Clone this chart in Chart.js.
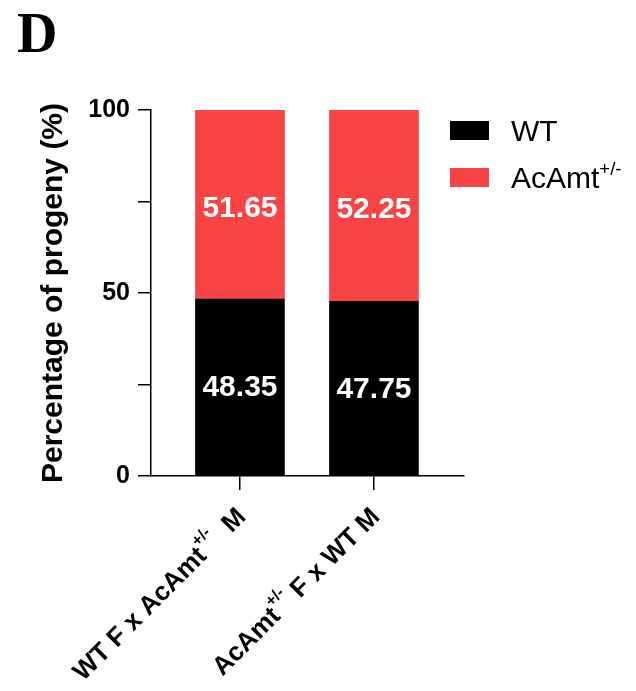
<!DOCTYPE html>
<html>
<head>
<meta charset="utf-8">
<script src="https://cdn.jsdelivr.net/npm/chart.js@4"></script>
<style>
  html, body { margin: 0; padding: 0; background: #fff; }
  #wrap { width: 636px; height: 691px; position: relative; }
</style>
</head>
<body>
<div id="wrap"><canvas id="chart" width="636" height="691"></canvas></div>
<script>
// chart values
const categories = [
    [{ t: 'WT F x AcAmt' }, { t: '+/-', sup: true }, { t: '  M' }],
    [{ t: 'AcAmt' }, { t: '+/-', sup: true }, { t: ' F x WT M' }]
];
const wtValues = [48.35, 47.75];
const mutValues = [51.65, 52.25];
const yTicks = [0, 50, 100];
const seriesNames = [[{ t: 'WT' }], [{ t: 'AcAmt' }, { t: '+/-', sup: true }]];

const RED = '#F94446';
const BOLD = 'bold ';
const FAMILY = "Arial, 'Liberation Sans', sans-serif";

// text with superscript pieces
function richWidth(ctx, parts, size, weight) {
    let w = 0;
    parts.forEach(p => {
        ctx.font = weight + (p.sup ? size * 0.62 : size) + 'px ' + FAMILY;
        w += ctx.measureText(p.t).width;
    });
    return w;
}
function drawRich(ctx, parts, x, y, size, weight) {
    let cx = x;
    parts.forEach(p => {
        const s = p.sup ? size * 0.62 : size;
        ctx.font = weight + s + 'px ' + FAMILY;
        ctx.fillText(p.t, cx, p.sup ? y - size * 0.45 : y);
        cx += ctx.measureText(p.t).width;
    });
}

const extrasPlugin = {
    id: 'extras',
    afterDatasetsDraw(chart) {
        const ctx = chart.ctx;
        ctx.save();
        // values inside the bars
        ctx.fillStyle = '#fff';
        ctx.font = 'bold 30px ' + FAMILY;
        ctx.textAlign = 'center';
        ctx.textBaseline = 'middle';
        chart.data.datasets.forEach((ds, di) => {
            chart.getDatasetMeta(di).data.forEach((bar, i) => {
                const p = bar.getProps(['x', 'y', 'base'], true);
                ctx.fillText(ds.data[i].y.toFixed(2), p.x, (p.y + p.base) / 2 + (di ? 4 : 1));
            });
        });
        ctx.restore();
    },
    afterDraw(chart) {
        const ctx = chart.ctx;
        const xs = chart.scales.x;
        ctx.save();
        ctx.fillStyle = '#000';
        ctx.textAlign = 'left';
        ctx.textBaseline = 'middle';
        // rotated category labels
        categories.forEach((parts, i) => {
            const px = xs.getPixelForValue(i);
            const w = richWidth(ctx, parts, 26, BOLD);
            ctx.save();
            ctx.translate(px + 2, xs.top + 37);
            ctx.rotate(-Math.PI / 4);
            drawRich(ctx, parts, -w, 0, 26, BOLD);
            ctx.restore();
        });
        // legend
        const colors = ['#000', RED];
        seriesNames.forEach((parts, i) => {
            const top = 121 + i * 47;
            ctx.fillStyle = colors[i];
            ctx.fillRect(450, top, 39, 19);
            ctx.fillStyle = '#000';
            ctx.textBaseline = 'alphabetic';
            drawRich(ctx, parts, 511, top + 20, 30, '');
        });
        // panel letter
        ctx.font = 'bold 56px "Liberation Serif", "Times New Roman", serif';
        ctx.textBaseline = 'alphabetic';
        ctx.fillText('D', 17, 52);
        ctx.restore();
    }
};

new Chart(document.getElementById('chart'), {
    type: 'bar',
    data: {
        datasets: [{
            label: 'WT',
            data: wtValues.map((v, i) => ({ x: i, y: v })),
            backgroundColor: '#000',
            barThickness: 89
        }, {
            label: 'AcAmt+/-',
            data: mutValues.map((v, i) => ({ x: i, y: v })),
            backgroundColor: RED,
            barThickness: 89
        }]
    },
    plugins: [extrasPlugin],
    options: {
        responsive: false,
        animation: false,
        layout: { padding: { left: 0, right: 172, top: 110, bottom: 0 } },
        plugins: { legend: { display: false }, tooltip: { enabled: false } },
        scales: {
            x: {
                type: 'linear',
                stacked: true,
                offset: false,
                min: -0.664,
                max: 1.672,
                afterBuildTicks: s => { s.ticks = categories.map((c, i) => ({ value: i })); },
                afterFit: s => { s.height = 215; },
                ticks: { callback: () => '', padding: 0 },
                grid: { offset: false, drawOnChartArea: false, drawTicks: true, tickLength: 14, color: '#000', lineWidth: 1.5 },
                border: { color: '#000', width: 1.5 }
            },
            y: {
                stacked: true,
                min: 0,
                max: 100,
                afterBuildTicks: s => {
                    s.ticks = [0, 25, 50, 75, 100].map(v => ({ value: v }));
                },
                afterFit: s => { s.width = 151; },
                ticks: {
                    callback: v => yTicks.includes(v) ? v : '',
                    color: '#000',
                    font: { size: 25, weight: 'bold', family: FAMILY },
                    padding: 8
                },
                grid: { drawOnChartArea: false, drawTicks: true, tickLength: 13, color: '#000', lineWidth: 1.5 },
                border: { color: '#000', width: 1.5 },
                title: {
                    display: true,
                    text: 'Percentage of progeny (%)',
                    color: '#000',
                    font: { size: 30, weight: 'bold', family: FAMILY },
                    padding: { top: 36, bottom: 0 }
                }
            }
        }
    }
});
</script>
</body>
</html>
